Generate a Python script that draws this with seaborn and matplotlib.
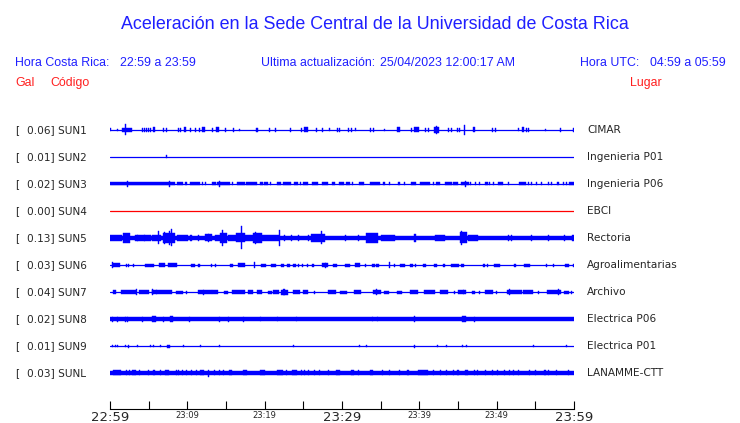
import numpy as np
import pandas as pd
import matplotlib
matplotlib.use("Agg")
import matplotlib.pyplot as plt
import matplotlib.transforms as mtransforms
import seaborn as sns

# estaciones, de arriba hacia abajo
codes = ["SUN1", "SUN2", "SUN3", "SUN4", "SUN5", "SUN6", "SUN7", "SUN8", "SUN9", "SUNL"]
gal = ["0.06", "0.01", "0.02", "0.00", "0.13", "0.03", "0.04", "0.02", "0.01", "0.03"]
places = ["CIMAR", "Ingenieria P01", "Ingenieria P06", "EBCI", "Rectoria",
          "Agroalimentarias", "Archivo", "Electrica P06", "Electrica P01", "LANAMME-CTT"]
trace_colors = ["#0000ff", "#0000ff", "#0000ff", "#ff0000", "#0000ff",
                "#0000ff", "#0000ff", "#0000ff", "#0000ff", "#0000ff"]
# ancho de la banda continua de cada traza
base_amp = [0.0, 0.0, 0.0, 0.0, 2.2, 0.0, 0.0, 1.8, 0.0, 1.6]

time_labels = ["22:59", "23:09", "23:19", "23:29", "23:39", "23:49", "23:59"]
big_labels = ["22:59", "23:29", "23:59"]

# rafagas: (minuto, amplitud) o (minuto, duracion, amplitud)
SUN1 = [(0.1, 1.5), (1.0, 1.0), (2.2, 1.3, 2.2), (2.0, 5.5), (4.2, 1.8), (4.5, 1.8), (4.7, 1.8),
        (5.0, 1.8), (5.2, 1.8), (5.65, 0.3, 2.5), (6.9, 1.8), (7.3, 1.8), (8.8, 1.8), (9.1, 1.8),
        (9.7, 0.3, 2.5), (10.4, 1.8), (11.0, 1.8), (11.55, 1.8), (12.1, 0.3, 2.5), (13.2, 1.8),
        (13.9, 0.3, 2.5), (14.9, 1.8), (15.95, 1.8), (16.7, 1.2), (18.9, 1.8), (19.1, 1.8),
        (20.6, 1.8), (21.4, 1.8), (23.4, 1.8), (24.8, 1.8), (25.4, 0.5, 2.5), (26.7, 1.8),
        (27.5, 1.8), (28.4, 1.5), (29.4, 1.8), (29.7, 1.8), (30.8, 1.8), (31.2, 1.8), (31.8, 1.5),
        (33.7, 1.8), (34.1, 1.8), (35.5, 1.2), (37.3, 0.3, 2.5), (39.0, 1.8), (39.6, 0.6, 2.5),
        (40.8, 1.8), (41.2, 1.8), (42.2, 0.6, 3.0), (42.2, 4.0), (43.75, 1.8), (44.2, 1.8),
        (44.9, 1.8), (45.2, 1.8), (45.8, 5.0), (47.1, 0.3, 2.5), (49.5, 1.8), (49.8, 1.8),
        (52.8, 1.5), (53.4, 0.3, 2.5), (53.8, 1.8), (54.1, 1.8), (56.3, 1.2), (58.3, 2.0), (59.9, 2.0)]
SUN2 = [(7.3, 1.5)]
SUN3 = [(4.2, 8.4, 1.5), (2.3, 3.0), (7.7, 3.0), (9.1, 0.8, 1.5), (9.8, 0.3, 1.5), (11.0, 1.25, 1.5),
        (11.9, 1.5), (12.3, 1.5), (13.45, 0.45, 1.5), (14.7, 1.6, 1.5), (14.1, 2.7), (15.8, 1.5),
        (16.9, 1.0, 1.5), (18.3, 1.3, 1.5), (19.6, 0.35, 1.5), (20.2, 0.5, 1.5), (20.8, 1.5),
        (21.8, 0.5, 1.5), (22.9, 1.1, 1.5), (24.0, 0.5, 1.5), (24.6, 1.5), (25.3, 0.65, 1.5),
        (26.5, 0.85, 1.5), (27.8, 0.85, 1.5), (28.9, 0.5, 1.5), (29.9, 0.7, 1.5), (30.8, 0.55, 1.5),
        (31.3, 1.5), (32.5, 0.7, 1.5), (34.3, 1.3, 1.5), (35.4, 0.3, 1.5), (36.2, 1.5),
        (37.4, 0.2, 1.5), (38.1, 1.5), (39.3, 0.65, 1.5), (40.7, 1.3, 1.5), (41.8, 1.5),
        (42.4, 0.45, 1.5), (43.75, 0.85, 1.5), (44.7, 0.65, 1.5), (45.9, 0.95, 1.5), (46.0, 3.0),
        (46.6, 1.5), (47.2, 1.5), (47.8, 1.5), (48.7, 0.45, 1.5), (49.1, 1.5), (49.6, 1.5),
        (50.5, 0.75, 1.5), (51.5, 1.5), (53.3, 0.95, 1.5), (54.1, 1.5), (54.5, 1.5), (55.2, 1.5),
        (55.8, 1.5), (56.7, 1.5), (57.1, 1.5), (57.9, 0.3, 1.5), (58.6, 1.5), (59.05, 1.5),
        (59.7, 0.6, 1.5)]
SUN4 = []
SUN5 = [(0.75, 1.5, 3.3), (2.15, 0.9, 4.7), (4.3, 2.1, 2.8), (3.6, 3.2), (4.5, 3.2), (6.0, 1.1, 3.3),
        (6.25, 6.5), (7.65, 1.5, 5.0), (7.1, 6.3), (7.7, 7.0), (7.97, 8.5), (9.4, 1.5, 2.8),
        (10.5, 0.2, 3.3), (11.4, 3.3), (12.7, 0.9, 3.5), (12.7, 4.3), (13.9, 0.6, 3.0),
        (14.65, 0.9, 5.0), (14.6, 8.0), (15.8, 1.1, 2.8), (16.9, 1.1, 4.5), (17.0, 11.5),
        (18.0, 1.0, 3.2), (19.05, 1.1, 5.0), (18.8, 6.0), (20.7, 2.2, 3.0), (21.9, 0.15, 7.7),
        (22.6, 3.3), (23.5, 3.3), (24.4, 3.3), (25.7, 3.3), (26.9, 1.7, 4.0), (27.4, 6.5),
        (30.4, 3.0), (32.1, 3.0), (33.9, 1.5, 5.0), (36.0, 1.8, 3.3), (39.4, 0.3, 4.0),
        (42.7, 1.3, 3.3), (45.7, 0.9, 5.5), (45.5, 7.0), (47.0, 1.3, 3.3), (51.5, 3.0),
        (51.9, 3.0), (54.5, 3.0), (56.7, 3.0), (58.8, 3.0), (59.9, 0.2, 3.0)]
SUN6 = [(0.86, 0.9, 2.3), (0.3, 3.0), (2.15, 1.5), (2.45, 1.5), (3.0, 1.5), (5.1, 1.25, 1.5),
        (6.7, 0.8, 1.8), (8.1, 1.2, 2.3), (10.7, 0.5, 1.5), (11.55, 0.3, 1.5), (13.1, 1.5),
        (13.7, 1.5), (15.7, 0.35, 1.5), (17.0, 1.0, 2.0), (18.7, 0.2, 3.0), (19.9, 0.65, 1.5),
        (21.2, 0.65, 1.5), (22.3, 0.35, 1.5), (23.05, 0.45, 1.5), (23.9, 0.35, 1.5), (24.35, 1.5),
        (24.95, 1.5), (25.5, 1.5), (26.25, 1.5), (27.8, 0.85, 1.8), (27.9, 2.5), (29.1, 0.5, 1.5),
        (30.7, 0.65, 1.5), (32.0, 0.75, 2.0), (33.0, 1.5), (34.1, 0.45, 1.5), (34.6, 0.3, 1.5),
        (36.1, 0.15, 3.0), (36.85, 1.5), (37.8, 0.65, 1.5), (39.0, 0.45, 1.5), (39.45, 1.5),
        (40.7, 0.45, 1.5), (42.1, 0.3, 1.5), (43.2, 0.25, 1.5), (44.6, 0.95, 1.5), (45.6, 0.35, 1.5),
        (48.4, 0.25, 1.5), (48.85, 1.5), (50.0, 0.75, 1.5), (52.4, 0.3, 1.5), (53.9, 0.75, 1.5),
        (56.5, 1.5), (57.3, 1.5), (59.1, 0.55, 1.5), (59.9, 1.5)]
SUN7 = [(0.6, 0.45, 1.7), (2.4, 2.0, 1.8), (4.4, 1.4, 2.3), (3.45, 3.0), (5.7, 0.65, 1.8), (5.5, 3.0),
        (7.0, 2.1, 1.8), (9.0, 1.0, 1.5), (9.9, 1.5), (12.3, 1.9, 2.0), (12.1, 2.5),
        (13.6, 0.85, 1.8), (15.0, 0.45, 1.5), (16.6, 1.7, 1.8), (18.2, 0.65, 1.8), (19.3, 0.65, 1.8),
        (20.65, 0.5, 1.5), (21.5, 0.75, 1.8), (22.6, 0.85, 2.5), (22.5, 3.3), (24.1, 0.85, 1.8),
        (25.3, 0.65, 2.3), (26.5, 1.5), (28.7, 1.1, 1.8), (30.2, 0.85, 1.5), (32.0, 0.85, 1.8),
        (34.5, 1.1, 2.3), (34.5, 3.3), (35.7, 0.65, 1.5), (37.4, 0.65, 1.5), (39.3, 1.1, 2.0),
        (41.3, 1.5, 1.8), (43.2, 1.1, 1.8), (44.6, 1.5), (45.5, 1.1, 1.8), (45.7, 2.3),
        (47.0, 0.45, 1.5), (47.8, 1.5), (49.0, 1.1, 1.8), (50.0, 1.5), (52.3, 1.9, 1.8), (51.7, 3.3),
        (54.1, 1.3, 1.8), (55.4, 1.5), (57.4, 1.9, 2.0), (58.0, 2.7), (59.0, 0.65, 1.5), (59.7, 1.5)]
SUN8 = [(0.3, 2.5), (1.0, 2.5), (2.0, 2.5), (2.3, 2.5), (4.2, 2.5), (5.7, 0.6, 2.7), (6.9, 2.5),
        (8.0, 0.4, 2.7), (10.3, 2.5), (14.2, 2.5), (15.3, 2.5), (17.2, 2.5), (19.4, 2.3),
        (21.6, 2.3), (24.1, 2.3), (33.9, 2.3), (34.6, 2.3), (39.35, 2.7), (45.8, 0.5, 2.7), (47.1, 2.5)]
SUN9 = [(0.3, 1.2), (0.65, 1.2), (1.0, 1.2), (2.0, 1.2), (2.45, 1.5), (3.5, 1.2), (5.2, 1.2),
        (5.6, 1.2), (6.5, 1.2), (7.6, 0.4, 1.5), (9.5, 1.2), (11.7, 1.2), (14.1, 1.2), (23.7, 1.2),
        (32.2, 1.2), (33.2, 1.2), (39.4, 1.5), (42.3, 1.2), (43.5, 1.2), (45.6, 1.2), (46.1, 1.2),
        (54.7, 1.2), (59.0, 1.2)]
SUNL = [(0.86, 0.9, 2.5), (1.42, 2.5), (2.07, 2.5), (2.46, 2.5), (3.1, 0.45, 2.5), (3.8, 2.5),
        (4.96, 2.5), (5.7, 0.3, 2.5), (6.47, 2.5), (7.4, 0.5, 2.5), (8.6, 2.5), (8.9, 2.5),
        (9.35, 2.5), (9.9, 2.5), (10.5, 2.5), (11.2, 2.5), (11.9, 0.4, 2.5), (12.7, 3.5), (13.5, 2.5),
        (14.2, 2.5), (14.65, 2.5), (15.6, 0.45, 2.5), (17.5, 0.55, 2.5), (19.7, 0.65, 2.5),
        (22.0, 0.75, 2.5), (22.8, 2.5), (23.8, 0.65, 2.5), (24.8, 2.5), (25.2, 2.5), (25.7, 2.5),
        (26.5, 2.5), (27.1, 2.5), (28.3, 2.5), (29.5, 0.55, 2.5), (31.4, 0.35, 2.5), (32.1, 2.5),
        (33.8, 0.45, 2.5), (35.2, 2.5), (36.2, 2.5), (37.4, 2.5), (38.5, 0.3, 2.5), (40.5, 1.3, 2.5),
        (41.8, 2.5), (42.7, 2.5), (43.5, 2.5), (44.4, 2.5), (45.0, 2.5), (46.1, 0.45, 2.5),
        (47.1, 2.5), (47.5, 2.5), (48.5, 2.5), (49.4, 2.5), (50.1, 2.5), (51.0, 2.5), (51.6, 2.5),
        (52.2, 2.5), (52.8, 2.5), (54.2, 2.5), (55.0, 2.5), (56.25, 2.5), (56.7, 2.5), (57.8, 2.5),
        (59.3, 2.5)]
bursts = [SUN1, SUN2, SUN3, SUN4, SUN5, SUN6, SUN7, SUN8, SUN9, SUNL]

W, H = 740, 423
ROW = 27.0          # separacion entre trazas (px)
TICK_W = 0.13       # duracion de una rafaga aislada (min)

sns.set_style("white")
plt.rcParams["font.family"] = ["DejaVu Sans"]

fig = plt.figure(figsize=(W / 100, H / 100), dpi=100)
ax = fig.add_axes([110 / W, (H - 409) / H, (574 - 110) / W, (409 - 118) / H])

# tabla larga con todas las rafagas
rows = []
for i, lst in enumerate(bursts):
    for b in lst:
        if len(b) == 2:
            t, w, a = b[0], TICK_W, b[1]
        else:
            t, w, a = b
        rows.append({"row": i, "t": t, "w": w, "a": a / ROW, "color": trace_colors[i]})
    if base_amp[i] > 0:
        rows.append({"row": i, "t": 30.0, "w": 60.0, "a": base_amp[i] / ROW, "color": trace_colors[i]})
df = pd.DataFrame(rows)

# linea base de cada estacion
base = pd.DataFrame({"code": np.repeat(codes, 2), "t": [0.0, 60.0] * len(codes),
                     "row": np.repeat(np.arange(len(codes)), 2)})
sns.lineplot(data=base, x="t", y="row", hue="code", palette=dict(zip(codes, trace_colors)),
             legend=False, linewidth=0.9, ax=ax)

ax.bar(df["t"], 2 * df["a"], width=df["w"], bottom=df["row"] - df["a"],
       color=df["color"], linewidth=0.3, edgecolor=df["color"])

ax.set_xlim(0, 60)
ax.set_ylim(len(codes) - 1 + (409 - 373) / ROW, -(130 - 118) / ROW)
ax.set_xlabel("")
ax.set_ylabel("")
ax.set_yticks([])
for s in ["top", "left", "right"]:
    ax.spines[s].set_visible(False)
ax.spines["bottom"].set_color("black")
ax.spines["bottom"].set_linewidth(0.8)

ax.set_xticks(np.arange(0, 61, 10))
ax.set_xticklabels(time_labels)
ax.set_xticks(np.arange(5, 60, 10), minor=True)
ax.tick_params(axis="x", which="both", direction="in", length=6, width=0.8,
               color="black", bottom=True, pad=1.5)
for lab in ax.get_xticklabels():
    if lab.get_text() in big_labels:
        lab.set_fontsize(9.5)
    else:
        lab.set_fontsize(6)

# etiquetas de cada traza
tr = mtransforms.blended_transform_factory(fig.transFigure, ax.transData)
for i in range(len(codes)):
    ax.text(15 / W, i, "[", transform=tr, fontsize=7.6, va="center", ha="left")
    ax.text(27 / W, i, f"{gal[i]}] {codes[i]}", transform=tr, fontsize=7.6, va="center", ha="left")
    ax.text(587 / W, i, places[i], transform=tr, fontsize=7.6, va="center", ha="left")

# encabezado
blue_txt = "#1f1fff"
red_txt = "#ff1f1f"
hdr = ["Liberation Sans", "DejaVu Sans"]
def ftext(x, y, s, color, size, ha="left"):
    fig.text(x / W, 1 - y / H, s, color=color, fontsize=size, ha=ha, va="baseline", family=hdr)

ftext(375, 29, "Aceleración en la Sede Central de la Universidad de Costa Rica", blue_txt, 12.9, ha="center")
ftext(15, 66, "Hora Costa Rica:", blue_txt, 8.9)
ftext(120.5, 66, "22:59 a 23:59", blue_txt, 8.9)
ftext(261, 66, "Ultima actualización:", blue_txt, 8.9)
ftext(380, 66, "25/04/2023 12:00:17 AM", blue_txt, 8.9)
ftext(580.5, 66, "Hora UTC:", blue_txt, 8.9)
ftext(650.5, 66, "04:59 a 05:59", blue_txt, 8.9)
ftext(15, 86, "Gal", red_txt, 8.9)
ftext(50, 86, "Código", red_txt, 8.9)
ftext(630, 86, "Lugar", red_txt, 8.9)

fig.savefig("out.png", dpi=100, facecolor="white")
